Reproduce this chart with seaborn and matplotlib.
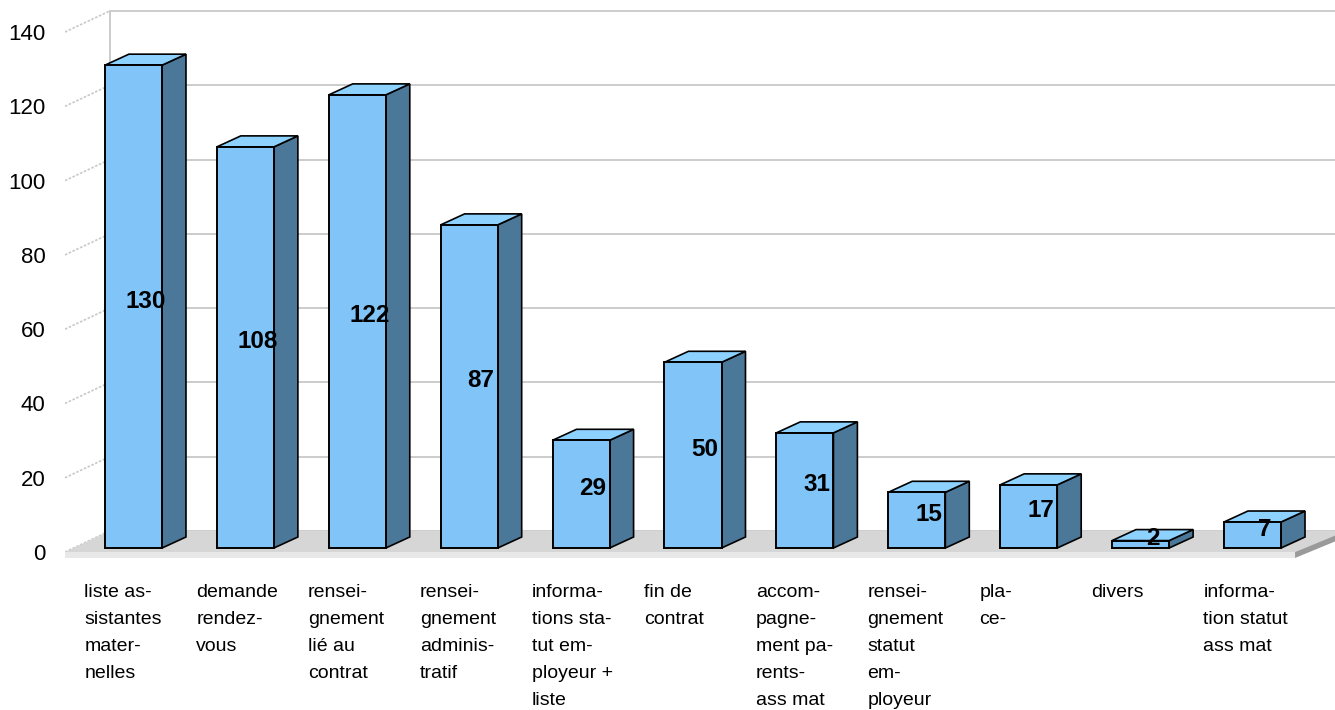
import matplotlib
matplotlib.use("Agg")
import matplotlib.pyplot as plt
from matplotlib.patches import Polygon
import seaborn as sns

categories = [
    "liste as-\nsistantes\nmater-\nnelles",
    "demande\nrendez-\nvous",
    "rensei-\ngnement\nlié au\ncontrat",
    "rensei-\ngnement\nadminis-\ntratif",
    "informa-\ntions sta-\ntut em-\nployeur +\nliste",
    "fin de\ncontrat",
    "accom-\npagne-\nment pa-\nrents-\nass mat",
    "rensei-\ngnement\nstatut\nem-\nployeur",
    "pla-\nce-",
    "divers",
    "informa-\ntion statut\nass mat",
]
values = [130, 108, 122, 87, 29, 50, 31, 15, 17, 2, 7]
y_ticks = [0, 20, 40, 60, 80, 100, 120, 140]

front_col = "#80c4f8"
top_col = "#8dd2ff"
side_col = "#4b7898"
grid_col = "#c8c8c8"

sns.set_style("white")
plt.rcParams["font.family"] = ["Liberation Sans", "DejaVu Sans"]

fig = plt.figure(figsize=(13.35, 7.1), dpi=100)
ax = fig.add_axes([65 / 1335, 150 / 710, 1 - 65 / 1335, 705 / 710 - 150 / 710])

# pseudo 3D offsets (category units, value units)
bar_dx, bar_dy = 0.214, 2.96
front_dx, front_dy = -0.08, -1.08
wall_dx, wall_dy = 0.32, 4.6
x_left, x_right = -0.612, 10.737
floor_right = 10.38

# back wall and left wall
for v in y_ticks:
    ax.plot([x_left + wall_dx - front_dx, x_right], [v + wall_dy] * 2,
            color=grid_col, lw=1.3, zorder=0.5)
    ax.plot([x_left, x_left + wall_dx - front_dx], [v + front_dy, v + wall_dy],
            color=grid_col, lw=1.2, ls=(0, (1.5, 1)), zorder=0.5)
ax.plot([x_left + wall_dx - front_dx] * 2, [wall_dy, 140 + wall_dy],
        color=grid_col, lw=1.3, zorder=0.5)

# floor
ax.add_patch(Polygon([(x_left, front_dy), (x_left + wall_dx - front_dx, wall_dy),
                      (x_right + 0.1, wall_dy), (floor_right, front_dy)],
                     closed=True, facecolor="#d6d6d6", edgecolor="none", zorder=1))
ax.add_patch(Polygon([(x_left, front_dy), (floor_right, front_dy),
                      (floor_right, front_dy - 1.6), (x_left, front_dy - 1.6)],
                     closed=True, facecolor="#e8e8e8", edgecolor="none", zorder=1))
ax.add_patch(Polygon([(floor_right, front_dy), (x_right + 0.1, wall_dy),
                      (x_right + 0.1, wall_dy - 1.6), (floor_right, front_dy - 1.6)],
                     closed=True, facecolor="#9a9a9a", edgecolor="none", zorder=1))

sns.barplot(x=list(range(len(values))), y=values, width=0.51, color=front_col,
            saturation=1, edgecolor="black", linewidth=1.4, ax=ax, zorder=4)

for p, v in zip(ax.patches[3:], values):
    l = p.get_x()
    r = l + p.get_width()
    h = p.get_height()
    ax.add_patch(Polygon([(r, 0), (r + bar_dx, bar_dy), (r + bar_dx, h + bar_dy), (r, h)],
                         closed=True, facecolor=side_col, edgecolor="black", lw=1.2, zorder=3))
    ax.add_patch(Polygon([(l, h), (l + bar_dx, h + bar_dy), (r + bar_dx, h + bar_dy), (r, h)],
                         closed=True, facecolor=top_col, edgecolor="black", lw=1.2, zorder=3))
    ax.text(l + p.get_width() / 2 + bar_dx / 2, (h + bar_dy) / 2, str(v),
            ha="center", va="center", fontsize=17.5, fontweight="bold", color="black", zorder=6)

ax.set_xlim(x_left, x_right)
ax.set_ylim(-3.23, 146.2)
ax.set_yticks([v + front_dy for v in y_ticks])
ax.set_yticklabels([str(v) for v in y_ticks], fontsize=16, color="black")
ax.set_xticks([i - 0.44 for i in range(len(categories))])
ax.set_xticklabels(categories, fontsize=14, ha="left", va="top", linespacing=1.77,
                   color="black")
ax.tick_params(axis="both", length=0)
ax.tick_params(axis="x", pad=17)
ax.tick_params(axis="y", pad=14)
for s in ax.spines.values():
    s.set_visible(False)
ax.set_xlabel("")
ax.set_ylabel("")

fig.savefig("out.png", dpi=100)
